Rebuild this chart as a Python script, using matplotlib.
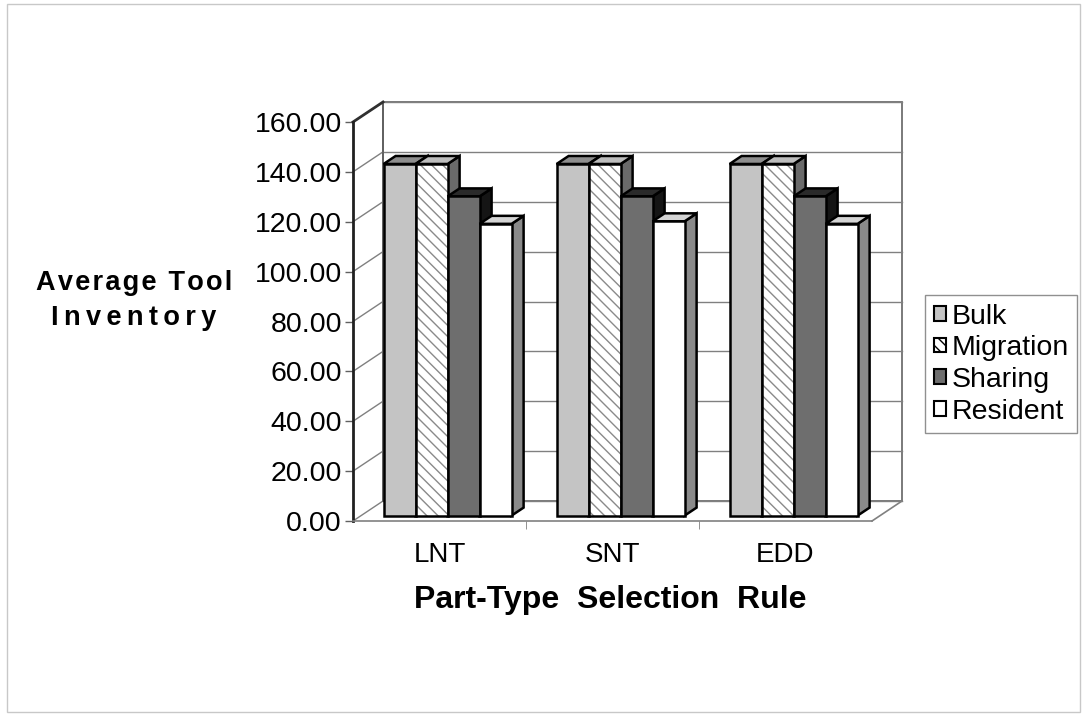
import matplotlib
matplotlib.use('Agg')
import matplotlib.pyplot as plt
from matplotlib.patches import Polygon, Rectangle, Patch

plt.rcParams['font.family'] = ['Liberation Sans', 'DejaVu Sans']

# データ
cats = ['LNT', 'SNT', 'EDD']
series = ['Bulk', 'Migration', 'Sharing', 'Resident']
bulk = [141, 141, 141]
migration = [141, 141, 141]
sharing = [128, 128, 128]
resident = [117, 118, 117]
yticks = [0, 20, 40, 60, 80, 100, 120, 140, 160]

values = [bulk, migration, sharing, resident]
front = ['#c4c4c4', '#ffffff', '#6e6e6e', '#ffffff']
top = ['#8e8e8e', '#bdbdbd', '#2a2a2a', '#d4d4d4']
side = ['#8e8e8e', '#6a6a6a', '#151515', '#8a8a8a']
hatch = [None, '\\\\\\', None, None]

W, H = 1086, 719
fig = plt.figure(figsize=(W / 100, H / 100), dpi=100)
ax = fig.add_axes([353 / W, 1 - 521 / H, 519 / W, 399 / H])
ax.set_xlim(-0.5, 2.5)
ax.set_ylim(0, 160)

# 奥行き (データ単位)
DX = 30 / (519 / 3)
DY = 20 / (399 / 160)
f0, f1 = 0.27, 0.67
w = 0.185

kw = dict(clip_on=False)
# 背面の壁と目盛り線
ax.add_patch(Polygon([(-0.5 + DX, DY), (2.5 + DX, DY), (2.5 + DX, 160 + DY),
                      (-0.5 + DX, 160 + DY)], closed=True, fc='white',
                     ec='#707070', lw=1.3, zorder=1, **kw))
for v in yticks:
    ax.plot([-0.5 + DX, 2.5 + DX], [v + DY, v + DY], color='#808080', lw=1, zorder=1.5, **kw)
    ax.plot([-0.5, -0.5 + DX], [v, v + DY], color='#808080', lw=1, zorder=1.5, **kw)
ax.plot([-0.5 + DX, -0.5 + DX], [DY, 160 + DY], color='#606060', lw=1.3, zorder=1.6, **kw)
ax.plot([-0.5, -0.5 + DX], [160, 160 + DY], color='#303030', lw=2, zorder=1.6, **kw)
ax.plot([2.5, 2.5 + DX], [0, DY], color='#808080', lw=1.2, zorder=1.6, **kw)

# 棒
z = 2
for i in range(len(cats)):
    for j in range(len(series)):
        val = values[j][i]
        x0 = i - 2 * w + j * w + f0 * DX
        b = f0 * DY
        dx, dy = (f1 - f0) * DX, (f1 - f0) * DY
        ax.add_patch(Polygon([(x0 + w, b), (x0 + w + dx, b + dy), (x0 + w + dx, b + val + dy),
                              (x0 + w, b + val)], closed=True, fc=side[j], ec='black',
                             lw=1.8, zorder=z, **kw))
        ax.add_patch(Polygon([(x0, b + val), (x0 + w, b + val), (x0 + w + dx, b + val + dy),
                              (x0 + dx, b + val + dy)], closed=True, fc=top[j], ec='black',
                             lw=1.8, zorder=z, **kw))
        if hatch[j]:
            ax.bar(x0, val, width=w, bottom=b, align='edge', color=front[j],
                   hatch=hatch[j], edgecolor='#8a8a8a', lw=0, zorder=z + 0.1)
            ax.bar(x0, val, width=w, bottom=b, align='edge', fill=False,
                   edgecolor='black', lw=1.8, zorder=z + 0.2)
        else:
            ax.bar(x0, val, width=w, bottom=b, align='edge', color=front[j],
                   edgecolor='black', lw=1.8, zorder=z + 0.1)
        z += 1

# 軸
for s in ['top', 'right']:
    ax.spines[s].set_visible(False)
ax.spines['left'].set_linewidth(2)
ax.spines['left'].set_color('#202020')
ax.spines['bottom'].set_linewidth(1.2)
ax.spines['bottom'].set_color('#808080')
ax.set_yticks(yticks)
ax.set_yticklabels(['%.2f' % v for v in yticks], fontsize=20.5)
ax.tick_params(axis='y', length=6, width=1, color='#606060', pad=2)
ax.set_xticks(range(len(cats)))
ax.set_xticklabels(cats, fontsize=20)
ax.set_xticks([0.5, 1.5], minor=True)
ax.tick_params(axis='x', which='major', length=0, pad=15)
ax.tick_params(axis='x', which='minor', length=6, color='#808080')
ax.patch.set_alpha(0)

fig.text(134 / W, 1 - 283 / H, '\u200a'.join('Average Tool'), fontsize=19.5,
         fontweight='bold', ha='center', va='center')
fig.text(134 / W, 1 - 318 / H, '\u2009'.join('Inventory'),
         fontsize=19.5, fontweight='bold', ha='center', va='center')
fig.text(610 / W, 1 - 600 / H, 'Part-Type  Selection  Rule', fontsize=23,
         fontweight='bold', ha='center', va='center')

# 凡例
handles = [Patch(fc=front[j], ec='black', lw=1.5, hatch=hatch[j]) for j in range(4)]
leg = fig.legend(handles, series, loc='upper left', bbox_to_anchor=(925 / W, 1 - 295 / H),
                 fontsize=20.5, handlelength=0.42, handleheight=0.42, handletextpad=0.2,
                 labelspacing=0.2, borderpad=0.3, borderaxespad=0, fancybox=False,
                 framealpha=1, edgecolor='#909090')
leg.get_frame().set_linewidth(1)

fig.add_artist(Rectangle((7 / W, 1 - 712 / H), 1073 / W, 708 / H, fill=False,
                         ec='#c8c8c8', lw=1, transform=fig.transFigure))

fig.savefig('out.png', dpi=100)
